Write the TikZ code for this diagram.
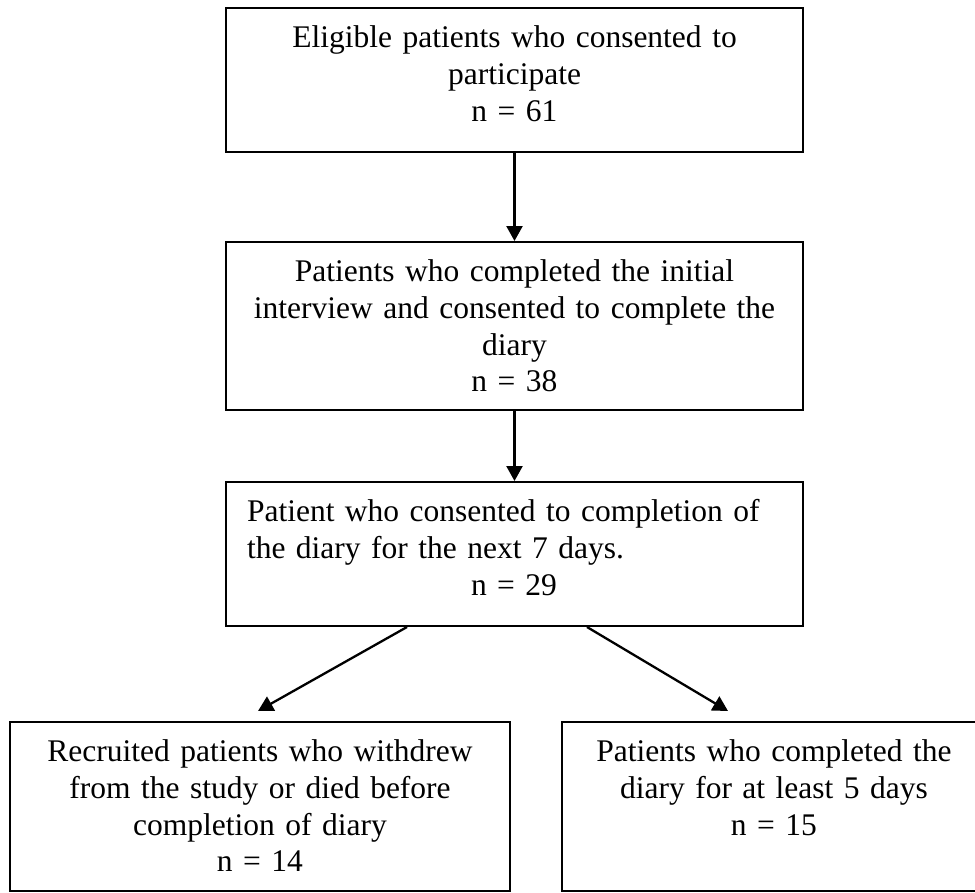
\documentclass[tikz,border=0pt]{standalone}
\usepackage{fontspec}
\setmainfont{Liberation Serif}
\usetikzlibrary{arrows.meta}

\begin{document}
\begin{tikzpicture}[x=1pt, y=-1pt,
  box/.style={draw, line width=2pt, inner xsep=21pt, inner ysep=0pt, text height=39.5pt, font=\fontsize{31.5}{36.8}\selectfont},
  arr/.style={-{Triangle[length=15pt, width=16pt]}, line width=2.3pt}]
  \useasboundingbox (0, 0) rectangle (975, 892);

  \node (elig) at (514.5, 80) [box, text width=535pt, text depth=104.5pt, align=center]{Eligible patients who consented to\\participate\\n = 61};
  \node (intv) at (514.5, 326) [box, text width=535pt, text depth=128.5pt, align=center]{Patients who completed the initial\\interview and consented to complete the\\diary\\n = 38};
  \node (diary) at (514.5, 554) [box, text width=535pt, text depth=104.5pt, align=left]{Patient who consented to completion of\\the diary for the next 7 days.\\\hspace*{224pt}n = 29};
  \node (wdrawn) at (260, 806.5) [box, text width=458pt, text depth=129.5pt, align=center]{Recruited patients who withdrew\\from the study or died before\\completion of diary\\n = 14};
  \node (compl) at (774, 806.5) [box, text width=382pt, text depth=129.5pt, align=center]{Patients who completed the\\diary for at least 5 days\\n = 15};

  \coordinate (wdtip) at (258, 711);
  \coordinate (cmtip) at (728, 711);

  \draw[arr] (elig.south) -- (intv.north);
  \draw[arr] (intv.south) -- (diary.north);
  \draw[arr] ([xshift=-107.5pt]diary.south) -- (wdtip);
  \draw[arr] ([xshift=72.5pt]diary.south) -- (cmtip);
\end{tikzpicture}
\end{document}
